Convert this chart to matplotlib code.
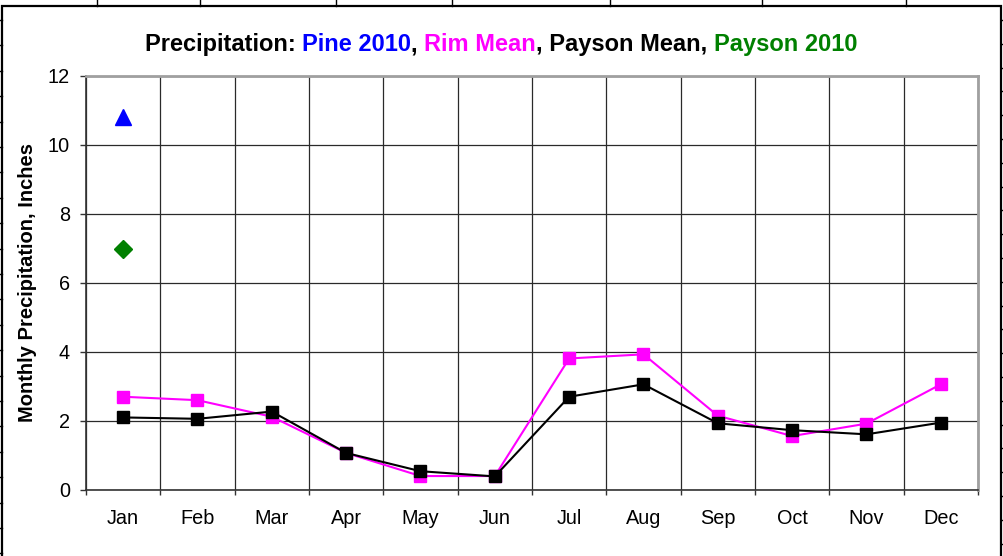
import matplotlib
matplotlib.use("Agg")
import matplotlib.pyplot as plt
from matplotlib.lines import Line2D
from matplotlib.patches import Rectangle
from matplotlib.offsetbox import TextArea, HPacker, AnchoredOffsetbox

plt.rcParams['font.family'] = ['Liberation Sans', 'DejaVu Sans']

months = ["Jan", "Feb", "Mar", "Apr", "May", "Jun", "Jul", "Aug", "Sep", "Oct", "Nov", "Dec"]
rim_mean = [2.69, 2.59, 2.11, 1.06, 0.39, 0.39, 3.80, 3.92, 2.14, 1.55, 1.91, 3.05]
payson_mean = [2.09, 2.05, 2.26, 1.06, 0.53, 0.38, 2.69, 3.05, 1.92, 1.72, 1.60, 1.94]
pine_2010_month = ["Jan"]
pine_2010 = [10.8]
payson_2010_month = ["Jan"]
payson_2010 = [6.97]
yticks = [0, 2, 4, 6, 8, 10, 12]

W, H = 1004, 556
fig = plt.figure(figsize=(W / 100, H / 100), dpi=100)

def fx(px):
    return px / W

def fy(py):
    return 1 - py / H

# spreadsheet-like background lines
for x in [97, 200, 336, 452, 610, 762, 906]:
    fig.add_artist(Line2D([fx(x), fx(x)], [fy(0), fy(6)], color='black', lw=1, transform=fig.transFigure))
y = 20.0
while y < H:
    fig.add_artist(Line2D([fx(0), fx(2)], [fy(y), fy(y)], color='black', lw=1, transform=fig.transFigure))
    y += 25.4
y = 20.0
while y < H:
    fig.add_artist(Line2D([fx(1001), fx(1004)], [fy(y), fy(y)], color='black', lw=1, transform=fig.transFigure))
    y += 23.8

# chart border
fig.add_artist(Rectangle((fx(2), fy(560)), fx(1001) - fx(2), fy(6) - fy(560), fill=False,
                         edgecolor='black', lw=1.6, transform=fig.transFigure))

ax = fig.add_axes([fx(86), fy(489.5), fx(978) - fx(86), fy(75.7) - fy(489.5)])
idx = list(range(len(months)))
ax.plot(idx, rim_mean, color='#ff00ff', lw=1.5, marker='s', markersize=8, zorder=3)
ax.plot(idx, payson_mean, color='black', lw=1.5, marker='s', markersize=8, zorder=4)
ax.plot([months.index(m) for m in pine_2010_month], pine_2010, linestyle='none', marker='^',
        color='#0000ff', markersize=12, zorder=5)
ax.plot([months.index(m) for m in payson_2010_month], payson_2010, linestyle='none', marker='D',
        color='#008000', markersize=9, zorder=5)

ax.set_xlim(-0.5, len(months) - 0.5)
ax.set_ylim(0, 12)
ax.set_yticks(yticks)
ax.set_yticklabels([str(v) for v in yticks], fontsize=14.3)
ax.set_xticks(idx)
ax.set_xticklabels(months, fontsize=14.3)
ax.set_xticks([i - 0.5 for i in range(len(months) + 1)], minor=True)
ax.tick_params(axis='x', which='major', length=0, pad=14)
ax.tick_params(axis='x', which='minor', length=3.6, width=1, direction='out', color='#333333')
ax.tick_params(axis='y', which='major', length=4.5, width=1, direction='out', pad=7, color='#333333')

ax.grid(True, which='minor', axis='x', color='#2a2a2a', lw=0.9)
ax.grid(True, which='major', axis='y', color='#2a2a2a', lw=0.9)
ax.set_axisbelow(True)

for s in ['top', 'right']:
    ax.spines[s].set_color('#a0a0a0')
    ax.spines[s].set_linewidth(2)
for s in ['left', 'bottom']:
    ax.spines[s].set_color('#333333')
    ax.spines[s].set_linewidth(1.2)

ax.set_ylabel("Monthly Precipitation, Inches", fontsize=14.5, fontweight='bold')
ax.yaxis.set_label_coords((37 - 86) / 892, 0.5)

parts = [("Precipitation: ", 'black'), ("Pine 2010", '#0000ff'), (", ", 'black'),
         ("Rim Mean", '#ff00ff'), (", Payson Mean, ", 'black'), ("Payson 2010", '#008000')]
areas = [TextArea(t, textprops=dict(color=c, fontsize=17, fontweight='bold')) for t, c in parts]
box = HPacker(children=areas, align='baseline', pad=0, sep=0)
anchored = AnchoredOffsetbox(loc='center', child=box, pad=0, borderpad=0, frameon=False,
                             bbox_to_anchor=(fx(501), fy(45)), bbox_transform=fig.transFigure)
fig.add_artist(anchored)

fig.savefig("out.png", dpi=100)
